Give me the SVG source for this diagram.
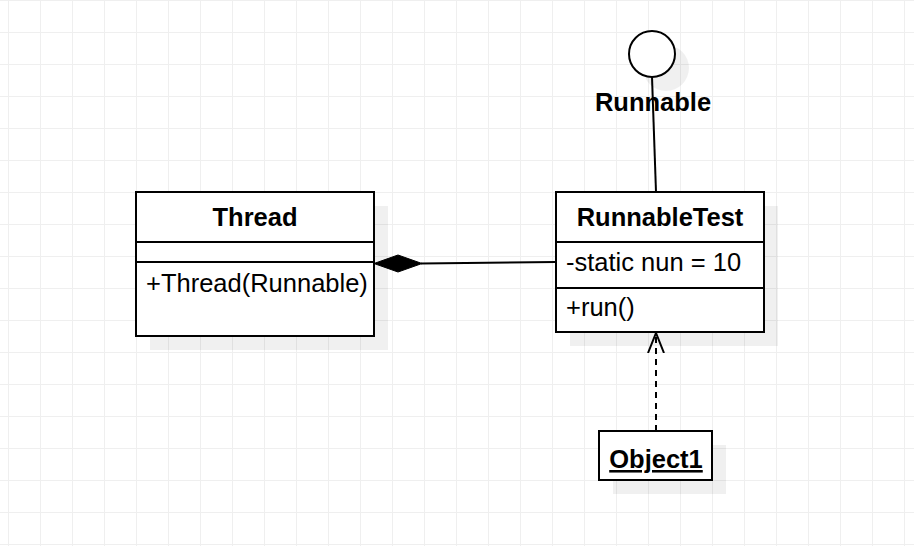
<svg xmlns="http://www.w3.org/2000/svg" width="914" height="546" viewBox="0 0 914 546">
<defs>
<pattern id="grid" x="8" y="0" width="32" height="32" patternUnits="userSpaceOnUse">
<path d="M0 0V32M0 0H32" fill="none" stroke="#efefef" stroke-width="2"/>
</pattern>
<marker id="open" viewBox="0 0 20 20" refX="20" refY="10" markerWidth="20" markerHeight="20" markerUnits="userSpaceOnUse" orient="auto">
<path d="M0 2L20 10L0 18" fill="none" stroke="#000" stroke-width="2"/>
</marker>
</defs>
<style>
.box{fill:#fff;stroke:#000;stroke-width:2}
.sh{fill:#000;fill-opacity:0.06}
.ln{fill:none;stroke:#000;stroke-width:2}
text{font-family:"Liberation Sans",Arial,sans-serif;font-size:25.5px;fill:#000}
.b{font-weight:bold}
</style>
<rect width="914" height="546" fill="#fff"/>
<rect width="914" height="546" fill="url(#grid)"/>

<g id="connectors">
<path class="ln" d="M652 77L656 192"/>
<path class="ln" d="M421 263.5L556 262"/>
<path d="M374 263.5L398 255L422 263.5L398 272Z" fill="#000" stroke="#000" stroke-width="1"/>
<path class="ln" d="M656 431V333" stroke-dasharray="6 5" marker-end="url(#open)"/>
</g>

<g id="runnable">
<circle class="sh" cx="666" cy="68" r="23"/>
<circle class="box" cx="652" cy="54" r="23"/>
<text class="b" x="653" y="111" text-anchor="middle">Runnable</text>
</g>

<g id="thread">
<rect class="sh" x="150" y="206" width="238" height="144"/>
<rect class="box" x="136" y="192" width="238" height="144"/>
<path class="ln" d="M136 242H374M136 262H374"/>
<text class="b" x="255" y="226" text-anchor="middle">Thread</text>
<text x="146" y="292">+Thread(Runnable)</text>
</g>

<g id="runnabletest">
<rect class="sh" x="570" y="206" width="208" height="140"/>
<rect class="box" x="556" y="192" width="208" height="140"/>
<path class="ln" d="M556 242H764M556 288H764"/>
<text class="b" x="660" y="226" text-anchor="middle">RunnableTest</text>
<text x="566" y="271">-static nun = 10</text>
<text x="566" y="316">+run()</text>
</g>

<g id="object1">
<rect class="sh" x="613" y="445" width="113" height="49"/>
<rect class="box" x="599" y="431" width="113" height="49"/>
<text class="b" x="656" y="468" text-anchor="middle" text-decoration="underline">Object1</text>
</g>
</svg>
